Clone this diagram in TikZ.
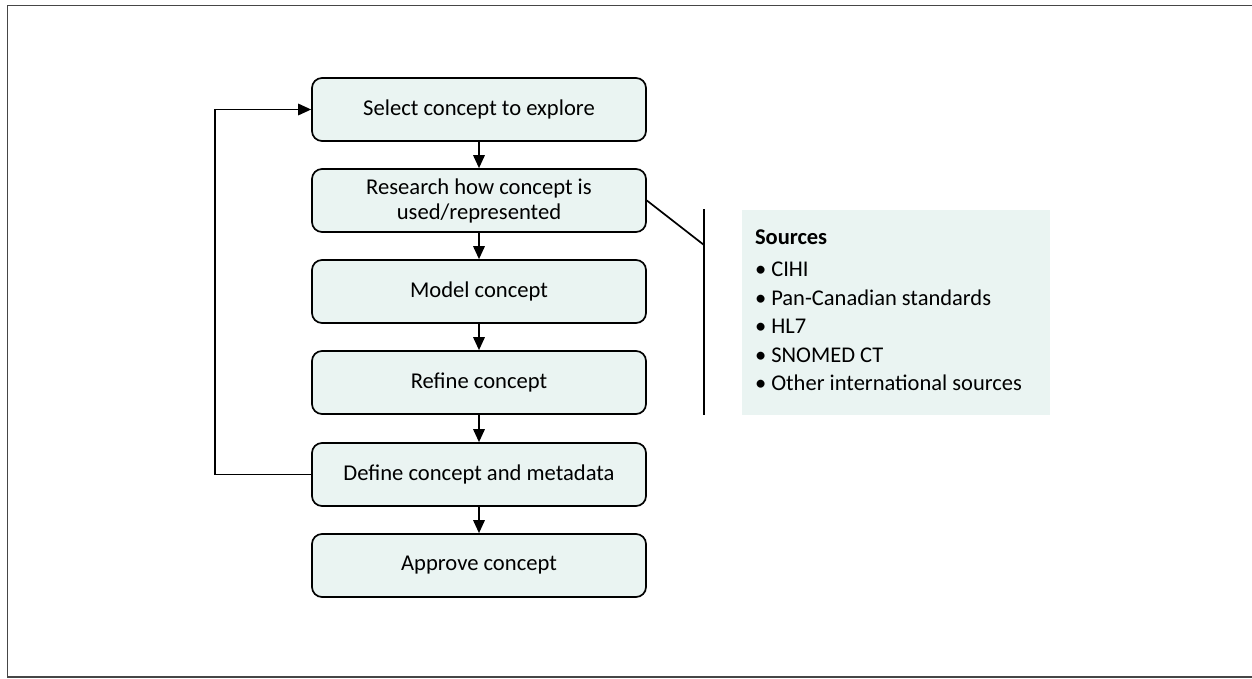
\documentclass[tikz,border=0pt]{standalone}
\usepackage{fontspec}
\setmainfont{Carlito}
\usetikzlibrary{arrows.meta}
\definecolor{boxfill}{RGB}{234,244,242}
\definecolor{framegray}{RGB}{70,70,70}
\tikzset{
  stepbox/.style={draw=black, line width=1.7pt, fill=boxfill, rounded corners=10pt,
    minimum width=334pt, minimum height=63pt, align=center,
    font=\fontsize{22.6}{25}\selectfont, inner sep=2pt},
  flow/.style={line width=1.7pt, -{Triangle[length=13pt,width=11.5pt]}},
  plain/.style={line width=1.7pt},
  srcbox/.style={fill=boxfill, minimum width=308pt, minimum height=205pt, inner sep=0pt},
  srctext/.style={align=left, inner sep=0pt, font=\fontsize{22.5}{28.4}\selectfont}
}
\begin{document}
\begin{tikzpicture}[x=1pt, y=-1pt]
\useasboundingbox (0,0) rectangle (1252,679);
% outer frame
\draw[framegray, line width=1.8pt] (7.5,5.5) rectangle (1262,677);

% process steps
\node[stepbox] (select)   at (479,109.5) {Select concept to explore};
\node[stepbox] (research) at (479,200.5) {Research how concept is\\used/represented};
\node[stepbox] (model)    at (479,291.5) {Model concept};
\node[stepbox] (refine)   at (479,382.5) {Refine concept};
\node[stepbox] (define)   at (479,474.5) {Define concept and metadata};
\node[stepbox] (approve)  at (479,565.5) {Approve concept};

\draw[flow] (select)   -- (research);
\draw[flow] (research) -- (model);
\draw[flow] (model)    -- (refine);
\draw[flow] (refine)   -- (define);
\draw[flow] (define)   -- (approve);

% feedback loop
\coordinate (loopcorner) at (215,474.5);
\draw[flow] (define.west) -- (loopcorner) |- (select.west);

% sources callout
\coordinate (brtop)  at (704,209);
\coordinate (brjoin) at (704,245);
\coordinate (brbot)  at (704,415);
\draw[plain] (research.east) -- (brjoin);
\draw[plain] (brtop) -- (brbot);

\node[srcbox] (sources) at (896,312.5) {};
\node[srctext, anchor=west, xshift=13pt, yshift=2.5pt] (srclist) at (sources.west)
  {\textbf{Sources}\\[4.5pt]
  • CIHI\\
  • Pan-Canadian standards\\
  • HL7\\
  • SNOMED CT\\
  • Other international sources};
\end{tikzpicture}
\end{document}
